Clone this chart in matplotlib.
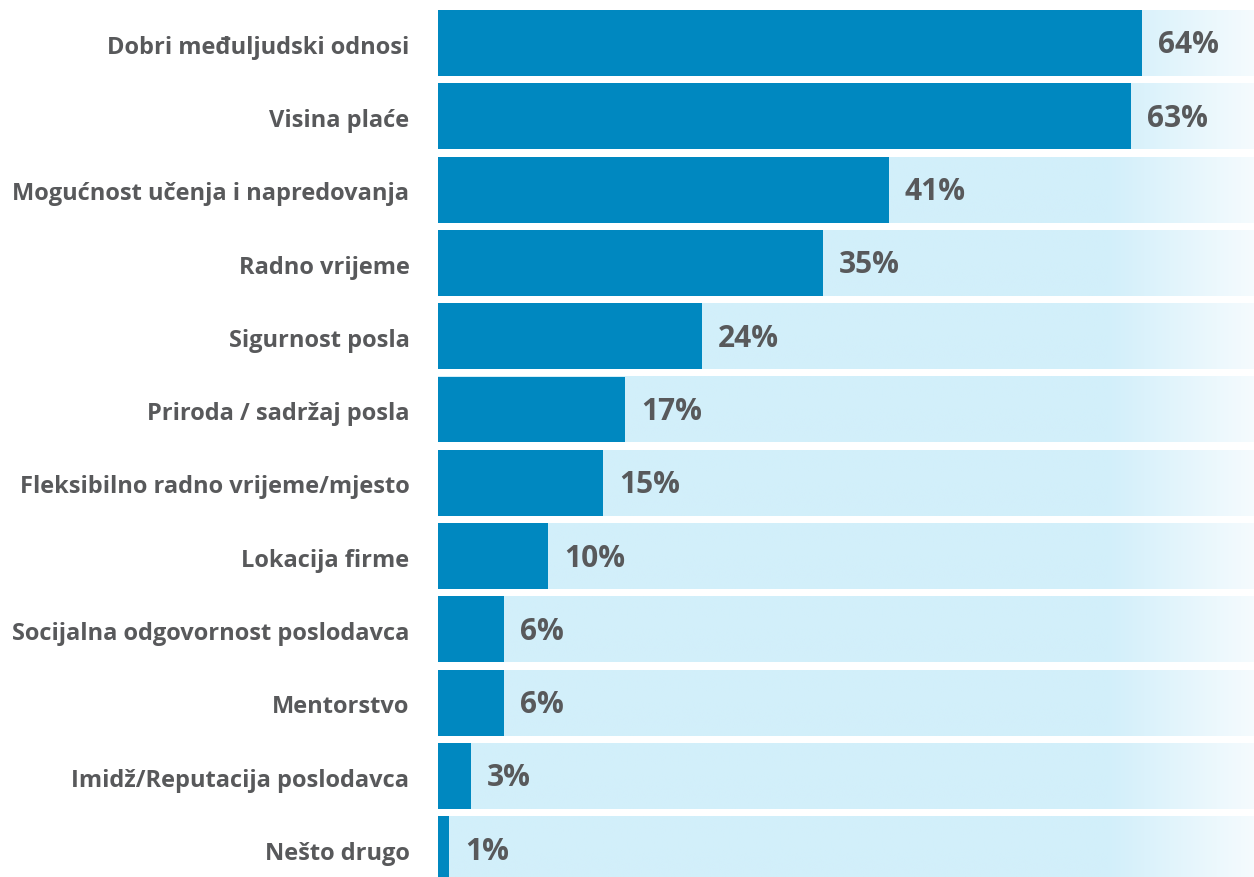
import matplotlib
matplotlib.use('Agg')
import matplotlib.pyplot as plt
import numpy as np

# data
labels = ["Dobri međuljudski odnosi", "Visina plaće", "Mogućnost učenja i napredovanja",
          "Radno vrijeme", "Sigurnost posla", "Priroda / sadržaj posla",
          "Fleksibilno radno vrijeme/mjesto", "Lokacija firme",
          "Socijalna odgovornost poslodavca", "Mentorstvo",
          "Imidž/Reputacija poslodavca", "Nešto drugo"]
values = [64, 63, 41, 35, 24, 17, 15, 10, 6, 6, 3, 1]

dark = "#0088C0"
light = np.array([210, 239, 250]) / 255
fade = np.array([245, 251, 254]) / 255
txt = "#58595b"

plt.rcParams['font.family'] = ['Open Sans', 'DejaVu Sans']

fig = plt.figure(figsize=(12.54, 8.78), dpi=100)
fig.patch.set_facecolor("white")
ax = fig.add_axes([438 / 1254, 0, 1 - 438 / 1254, 1])
xmax = 74.2
ylim = (11.378, -0.600)

# gradient for the background bars (solid, then fading to white at the right)
n = 400
xs = np.linspace(0, xmax, n)
t = np.clip((xs - 61.0) / (xmax - 61.0), 0, 1)[:, None]
grad = (light * (1 - t) + fade * t)[None, :, :]

h = 0.9
for i, v in enumerate(values):
    ax.imshow(grad, extent=(0, xmax, i + h / 2, i - h / 2), aspect='auto',
              interpolation='bilinear', zorder=1)
    ax.barh(i, v, height=h, color=dark, zorder=2)
    ax.text(v + 1.45, i + 0.02, f"{v}%", va='center', ha='left', fontsize=21.5,
            fontweight='bold', color=txt, zorder=3)
    ax.text(-2.6, i + 0.05, labels[i], va='center', ha='right', fontsize=17,
            fontweight='bold', color=txt, zorder=3)

ax.set_xlim(0, xmax)
ax.set_ylim(*ylim)
ax.axis('off')

plt.savefig("out.png", dpi=100)
